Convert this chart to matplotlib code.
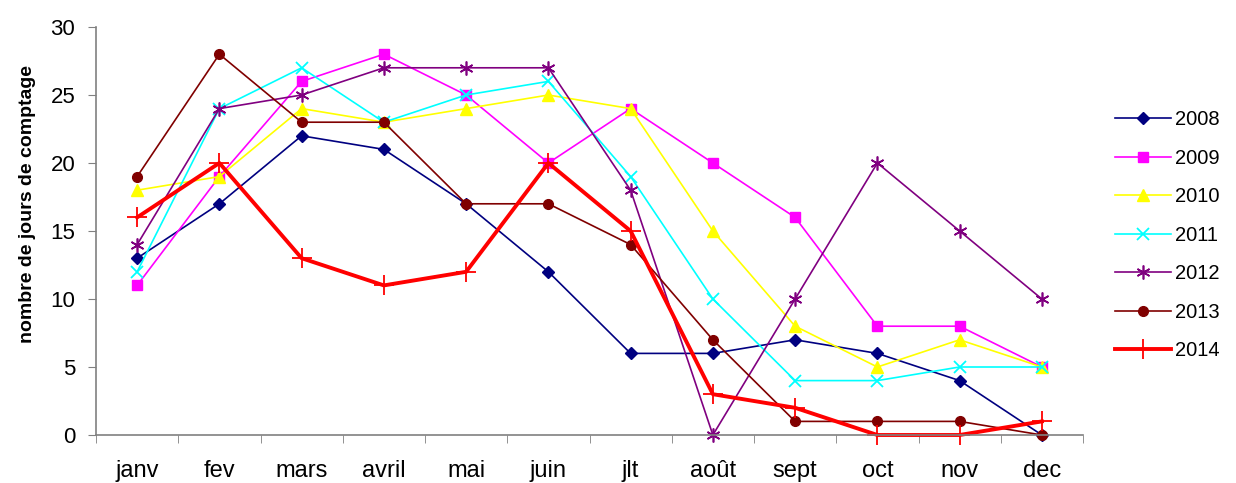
import matplotlib
matplotlib.use("Agg")
import matplotlib.pyplot as plt

plt.rcParams['font.family'] = ['Liberation Sans', 'DejaVu Sans']

months = ["janv", "fev", "mars", "avril", "mai", "juin", "jlt", "août", "sept", "oct", "nov", "dec"]
y2008 = [13, 17, 22, 21, 17, 12, 6, 6, 7, 6, 4, 0]
y2009 = [11, 19, 26, 28, 25, 20, 24, 20, 16, 8, 8, 5]
y2010 = [18, 19, 24, 23, 24, 25, 24, 15, 8, 5, 7, 5]
y2011 = [12, 24, 27, 23, 25, 26, 19, 10, 4, 4, 5, 5]
y2012 = [14, 24, 25, 27, 27, 27, 18, 0, 10, 20, 15, 10]
y2013 = [19, 28, 23, 23, 17, 17, 14, 7, 1, 1, 1, 0]
y2014 = [16, 20, 13, 11, 12, 20, 15, 3, 2, 0, 0, 1]
years = ["2008", "2009", "2010", "2011", "2012", "2013", "2014"]
series = [y2008, y2009, y2010, y2011, y2012, y2013, y2014]

styles = [
    dict(color="#000080", marker="D", ms=6.5, lw=1.2),
    dict(color="#FF00FF", marker="s", ms=6.5, lw=1.2),
    dict(color="#FFFF00", marker="^", ms=8, lw=1.2),
    dict(color="#00FFFF", marker="x", ms=9, lw=1.2, mew=1.3),
    dict(color="#800080", marker=(6, 2, 0), ms=10, lw=1.2, mew=1.2),
    dict(color="#800000", marker="o", ms=7, lw=1.2),
    dict(color="#FF0000", marker="+", ms=14, lw=2.8, mew=1.3),
]

fig = plt.figure(figsize=(12.36, 4.83), dpi=100)
ax = fig.add_axes([96/1236, 1-435/483, (1083-96)/1236, (435-27)/483])

x = list(range(len(months)))
handles = []
for yr, vals, st in zip(years, series, styles):
    h, = ax.plot(x, vals, label=yr, clip_on=False, **st)
    handles.append(h)

ax.set_xlim(-0.5, 11.5)
ax.set_ylim(0, 30)
ax.set_yticks(range(0, 31, 5))
ax.set_xticks(x)
ax.set_xticklabels(months, fontsize=17)
ax.set_xticks([i - 0.5 for i in range(13)], minor=True)
ax.tick_params(axis='x', which='major', length=0, pad=18)
ax.tick_params(axis='x', which='minor', length=6, color="#808080", direction='out')
ax.tick_params(axis='y', length=6, color="#808080", direction='out', labelsize=16, pad=9)
for s in ['top', 'right']:
    ax.spines[s].set_visible(False)
for s in ['left', 'bottom']:
    ax.spines[s].set_color("#808080")
    ax.spines[s].set_linewidth(1.2)
ax.set_ylabel("nombre de jours de comptage", fontsize=14, fontweight='bold')
ax.yaxis.set_label_coords(-0.061, 0.566)

fig.legend(handles=handles, labels=years, loc='upper left',
           bbox_to_anchor=(1097/1236, 1-92/483), frameon=False,
           fontsize=14.5, handlelength=2.75, labelspacing=0.97, handletextpad=0.2)

fig.savefig("out.png", dpi=100)
